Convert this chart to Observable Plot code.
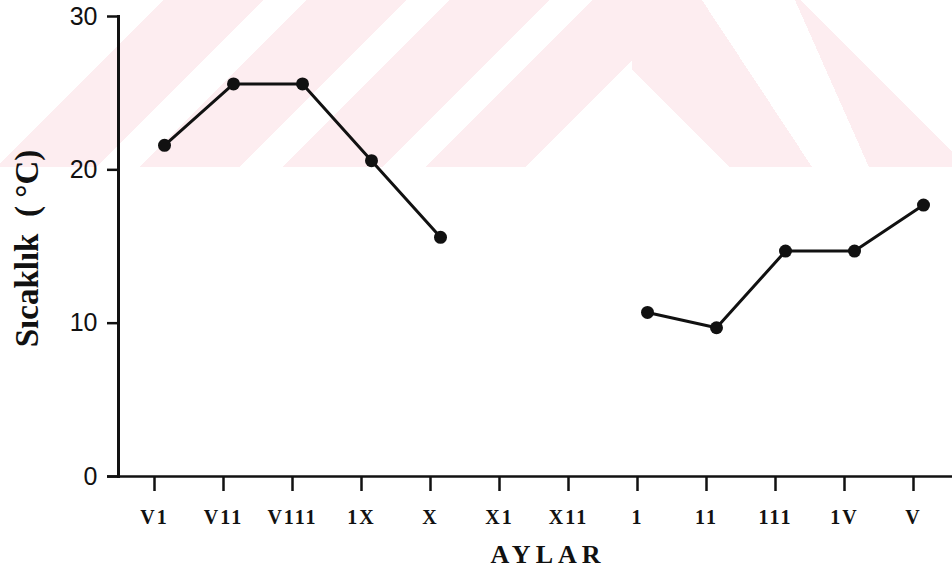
<!DOCTYPE html>
<html>
<head>
<meta charset="utf-8">
<script src="https://cdn.jsdelivr.net/npm/d3@7"></script>
<script src="https://cdn.jsdelivr.net/npm/@observablehq/plot@0.6"></script>
<style>
  body { margin: 0; background: #fff; }
  #wrap { position: relative; width: 952px; height: 569px; overflow: hidden; }
  .wm { position: absolute; top: 0; height: 167px; z-index: 0; }
  #wmL { left: 0; width: 632px;
    background: linear-gradient(135deg, #fff 0 115.6px, #fdedf0 115.6px 186.3px, #fff 186.3px 216.7px, #fdedf0 216.7px 287.4px, #fff 287.4px 317.8px, #fdedf0 317.8px 388.5px, #fff 388.5px 418.9px, #fdedf0 418.9px 489.6px, #fff 489.6px); }
  #wmR { left: 632px; width: 320px;
    background:
      linear-gradient(45deg, transparent 0 236.9px, #fff 236.9px),
      linear-gradient(66.1deg, transparent 0 216.6px, #fdedf0 216.6px),
      linear-gradient(56.6deg, transparent 0 150.3px, #fff 150.3px),
      linear-gradient(45deg, #fff 0 68.6px, transparent 68.6px),
      #fdedf0; }
  #chart { position: absolute; left: 0; top: 0; z-index: 1; }
  svg text { white-space: pre; }
</style>
</head>
<body>
<div id="wrap">
  <div class="wm" id="wmL"></div>
  <div class="wm" id="wmR"></div>
  <div id="chart"></div>
</div>
<script>
// Months (as printed on the chart) and temperatures (°C)
const months = ["V1", "V11", "V111", "1X", "X", "X1", "X11", "1", "11", "111", "1V", "V"];
const temps = [21.6, 25.6, 25.6, 20.6, 15.6, null, null, 10.7, 9.7, 14.7, 14.7, 17.7];
const yTicks = [0, 10, 20, 30];
const yTitle = "Sıcaklık  ( °C)";
const xTitle = "AYLAR";

const data = months.map((m, i) => ({month: m, temp: temps[i]}));
const serif = "'Liberation Serif','Times New Roman',serif";
const sans = "'Liberation Sans',Arial,sans-serif";

const plot = Plot.plot({
  width: 952,
  height: 569,
  marginLeft: 118,
  marginRight: 3,
  marginTop: 16,
  marginBottom: 93,
  style: {background: "transparent", color: "#111", overflow: "visible"},
  x: {type: "point", domain: months, padding: 0.5, label: null},
  y: {domain: [0, 30], label: null},
  marks: [
    Plot.ruleY([0], {stroke: "#111", strokeWidth: 2.5, insetLeft: -11, insetRight: -3}),
    Plot.frame({anchor: "left", stroke: "#111", strokeWidth: 3}),
    Plot.axisY(yTicks, {tickSize: 11, tickPadding: 10, fontSize: 25, fontFamily: sans, strokeWidth: 2.5, label: null}),
    Plot.axisX({tickSize: 15, tickPadding: 18, fontSize: 20, fontFamily: serif, fontWeight: "bold", strokeWidth: 2.5, label: null}),
    Plot.line(data, {x: "month", y: "temp", dx: 10, stroke: "#111", strokeWidth: 3}),
    Plot.dot(data, {x: "month", y: "temp", dx: 10, r: 6.5, fill: "#111"}),
    Plot.text([yTitle], {frameAnchor: "left", textAnchor: "middle", lineAnchor: "middle", rotate: -90, dx: -91, dy: 2, fontSize: 33, fontWeight: "bold", fontFamily: serif}),
    Plot.text([xTitle], {frameAnchor: "bottom", textAnchor: "middle", lineAnchor: "middle", dx: 14, dy: 78, fontSize: 26, fontWeight: "bold", fontFamily: serif})
  ]
});

const svg = d3.select(plot);
svg.selectAll('g[aria-label="x-axis tick label"] text').style("letter-spacing", "2px");
svg.selectAll("text").filter(function() { return this.textContent === xTitle; }).style("letter-spacing", "5px");

document.getElementById("chart").appendChild(plot);
</script>
</body>
</html>
